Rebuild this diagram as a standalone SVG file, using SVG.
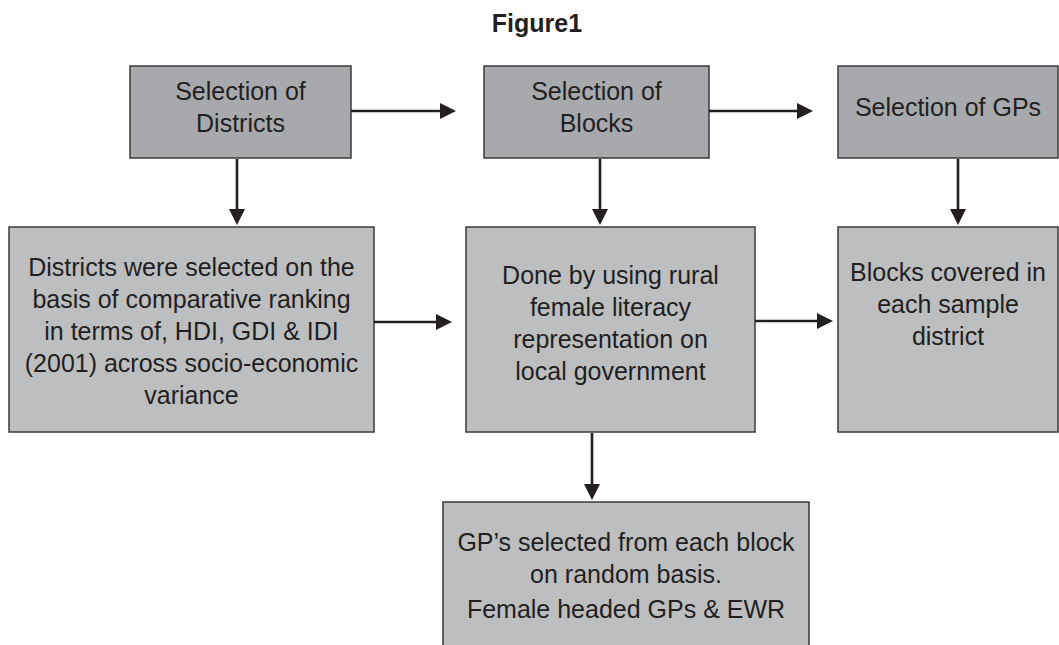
<svg xmlns="http://www.w3.org/2000/svg" width="1059" height="645" viewBox="0 0 1059 645">
  <style>
    .bg { fill: #ffffff; }
    .top { fill: #a7a9ac; stroke: #3a3a3a; stroke-width: 1.5; }
    .low { fill: #bcbec0; stroke: #3a3a3a; stroke-width: 1.5; }
    .t { font-family: "Liberation Sans", Arial, sans-serif; font-size: 25px; fill: #231f20; text-anchor: middle; }
    .title { font-family: "Liberation Sans", Arial, sans-serif; font-size: 25px; font-weight: bold; fill: #231f20; text-anchor: middle; }
    .conn line { stroke: #231f20; stroke-width: 2.6; fill: none; marker-end: url(#ah); }
  </style>
  <defs>
    <marker id="ah" markerUnits="userSpaceOnUse" markerWidth="16" markerHeight="16" refX="12" refY="8" orient="auto">
      <path d="M0,0 L16,8 L0,16 Z" fill="#231f20"/>
    </marker>
  </defs>
  <rect class="bg" x="0" y="0" width="1059" height="645"/>
  <text class="title" x="537" y="32">Figure1</text>

  <g id="sel-districts">
    <rect class="top" x="130" y="66" width="221" height="92"/>
    <text class="t" x="240.5" y="100">Selection of</text>
    <text class="t" x="240.5" y="132">Districts</text>
  </g>
  <g id="sel-blocks">
    <rect class="top" x="484" y="66" width="225" height="92"/>
    <text class="t" x="596.5" y="100">Selection of</text>
    <text class="t" x="596.5" y="132">Blocks</text>
  </g>
  <g id="sel-gps">
    <rect class="top" x="838" y="66" width="220" height="92"/>
    <text class="t" x="948" y="116">Selection of GPs</text>
  </g>
  <g id="districts-detail">
    <rect class="low" x="9" y="227" width="365" height="205"/>
    <text class="t" x="191.5" y="276">Districts were selected on the</text>
    <text class="t" x="191.5" y="308">basis of comparative ranking</text>
    <text class="t" x="191.5" y="340">in terms of, HDI, GDI &amp; IDI</text>
    <text class="t" x="191.5" y="372">(2001) across socio-economic</text>
    <text class="t" x="191.5" y="404">variance</text>
  </g>
  <g id="blocks-detail">
    <rect class="low" x="466" y="227" width="289" height="205"/>
    <text class="t" x="610.5" y="284">Done by using rural</text>
    <text class="t" x="610.5" y="316">female literacy</text>
    <text class="t" x="610.5" y="348">representation on</text>
    <text class="t" x="610.5" y="380">local government</text>
  </g>
  <g id="gps-detail">
    <rect class="low" x="838" y="227" width="220" height="205"/>
    <text class="t" x="948" y="281">Blocks covered in</text>
    <text class="t" x="948" y="313">each sample</text>
    <text class="t" x="948" y="345">district</text>
  </g>
  <g id="gp-random">
    <rect class="low" x="443" y="502" width="366" height="160"/>
    <text class="t" x="626" y="551">GP’s selected from each block</text>
    <text class="t" x="626" y="583">on random basis.</text>
    <text class="t" x="626" y="618">Female headed GPs &amp; EWR</text>
  </g>

  <g id="connectors" class="conn">
    <line x1="351" y1="111" x2="452" y2="111"/>
    <line x1="709" y1="111" x2="809" y2="111"/>
    <line x1="374" y1="322" x2="448" y2="322"/>
    <line x1="755" y1="321" x2="829" y2="321"/>
    <line x1="237" y1="159" x2="237" y2="221"/>
    <line x1="600" y1="159" x2="600" y2="221"/>
    <line x1="958" y1="159" x2="958" y2="221"/>
    <line x1="592" y1="433" x2="592" y2="496"/>
  </g>
</svg>
